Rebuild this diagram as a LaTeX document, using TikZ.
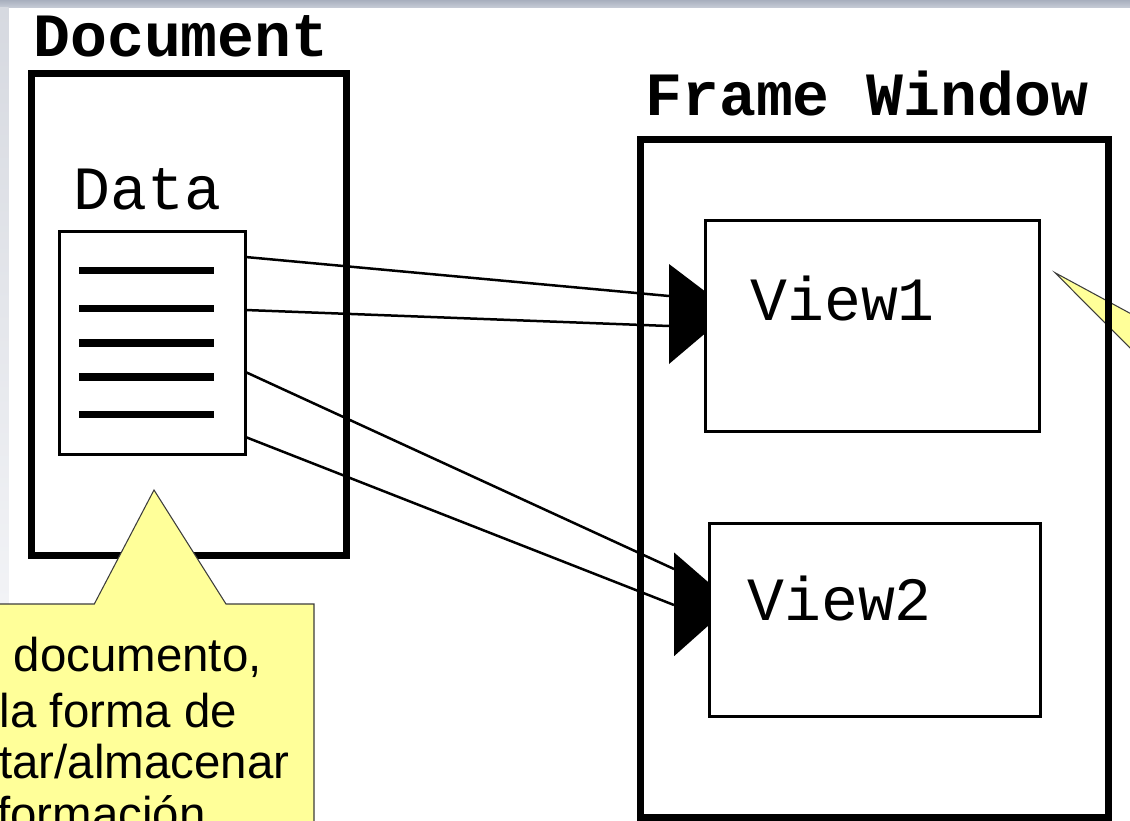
\documentclass[tikz,border=0pt]{standalone}
\usepackage{fontspec}
\setmainfont{Liberation Sans}
\newfontfamily\codefont{Liberation Mono}
\usetikzlibrary{arrows}
\usetikzlibrary{shapes}

\definecolor{NoteYellow}{RGB}{255,255,153}
\definecolor{NoteEdge}{RGB}{60,60,60}
\definecolor{BarTop}{RGB}{168,175,190}
\definecolor{BarBottom}{RGB}{200,205,215}
\definecolor{SideTop}{RGB}{214,217,224}
\definecolor{SideBottom}{RGB}{242,243,246}

\begin{document}
\begin{tikzpicture}[x = 0.02cm, y = -0.02cm]
\tikzstyle{OuterStyle}=[shape = rectangle, draw, line width = 0.14cm, inner sep = 0pt]
\tikzstyle{InnerStyle}=[shape = rectangle, draw, line width = 0.06cm, inner sep = 0pt]
\tikzstyle{TitleStyle}=[anchor = base west, inner sep = 0pt,
font = \codefont\bfseries\fontsize{35}{35}\selectfont]
\tikzstyle{NameStyle}=[anchor = base west, inner sep = 0pt,
font = \codefont\fontsize{35}{35}\selectfont]
\tikzstyle{NoteStyle}=[anchor = base west, inner sep = 0pt, font = \fontsize{27}{27}\selectfont]
\tikzstyle{LinkStyle}=[line width = 0.05cm]
\tikzstyle{HeadStyle}=[fill = black]
\tikzstyle{CalloutStyle}=[fill = NoteYellow, draw = NoteEdge, line width = 0.6pt]
\useasboundingbox (0,0) rectangle (1130,821);
\clip (0,0) rectangle (1130,821);
\fill[white] (0,0) rectangle (1130,821);
\shade[top color = BarTop, bottom color = BarBottom] (0,0) rectangle (1130,8);
\shade[top color = SideTop, bottom color = SideBottom] (0,8) rectangle (8.5,604);
\draw[CalloutStyle] (1055,272.7) -- (1145,321.4) -- (1145,363) -- cycle;
\node[OuterStyle, minimum width = 6.32cm, minimum height = 9.64cm] (doc) at (189,314.5) {};
\node[OuterStyle, minimum width = 9.374cm, minimum height = 13.58cm] (frame) at (874.35,478.5) {};
\node[InnerStyle, minimum width = 3.73cm, minimum height = 4.47cm] (data) at (152.25,343.25) {};
\node[InnerStyle, minimum width = 6.7cm, minimum height = 4.23cm] (view1) at (872.5,325.75) {};
\node[InnerStyle, minimum width = 6.63cm, minimum height = 3.85cm] (view2) at (874.8,620) {};
\node[TitleStyle] (doctitle) at (33,57) {Document};
\node[TitleStyle] (frametitle) at (645,116) {Frame Window};
\node[NameStyle] (datatitle) at (73,210) {Data};
\node[NameStyle] (view1title) at (750,320) {View1};
\node[NameStyle] (view2title) at (747,620) {View2};
\foreach \y in {270.7, 308.7, 343, 377, 414.7}
  \draw[line width = 0.15cm] (79,\y) -- (214,\y);
\coordinate (d1) at (245.5,257);
\coordinate (d2) at (245.5,310);
\coordinate (d3) at (245.5,372);
\coordinate (d4) at (245.5,437);
\coordinate (a1) at (669,296);
\coordinate (a2) at (669,326);
\coordinate (b1) at (674,569);
\coordinate (b2) at (674,605);
\draw[LinkStyle] (d1) -- (a1);
\draw[LinkStyle] (d2) -- (a2);
\draw[LinkStyle] (d3) -- (b1);
\draw[LinkStyle] (d4) -- (b2);
\fill[HeadStyle] (669,264) -- (705,291.3) -- (705,333.5) -- (669,364) -- cycle;
\fill[HeadStyle] (674,552.4) -- (709,582.8) -- (709,625) -- (674,656.2) -- cycle;
\draw[CalloutStyle] (-5,604) -- (94.3,604) -- (154,490) -- (226,604) -- (314,604)
  -- (314,840) -- (-5,840) -- cycle;
\node[NoteStyle] (note1) at (13.4,671.7) {documento,};
\node[NoteStyle] (note2) at (-0.5,727.3) {la forma de};
\node[NoteStyle] (note3) at (-1,778.3) {tar/almacenar};
\node[NoteStyle] (note4) at (-3,830) {formación};
\end{tikzpicture}
\end{document}
